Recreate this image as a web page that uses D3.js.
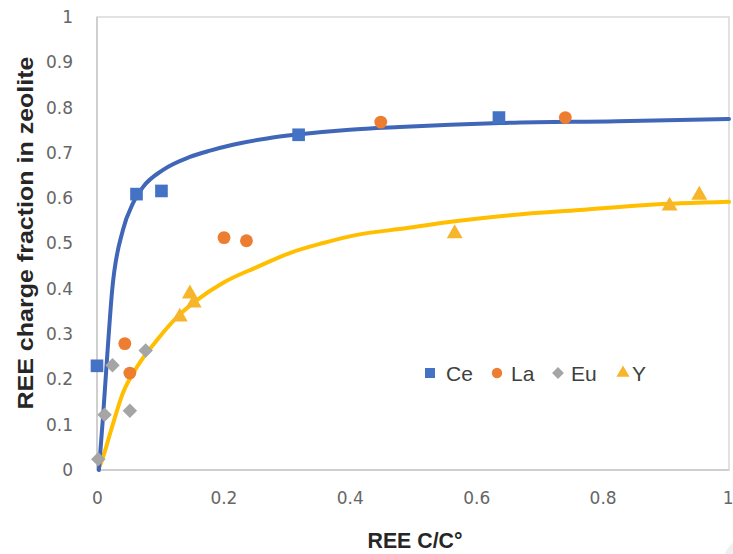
<!DOCTYPE html>
<html><head><meta charset="utf-8">
<script src="https://cdn.jsdelivr.net/npm/d3@7"></script>
<style>body{margin:0;background:#fff;}svg{display:block;}</style>
</head><body>
<script>
// ---- data ----
const ceX = [0, 0.0625, 0.102, 0.319, 0.636];
const ceY = [0.230, 0.609, 0.616, 0.740, 0.778];
const laX = [0.044, 0.052, 0.201, 0.2365, 0.449, 0.741];
const laY = [0.279, 0.214, 0.513, 0.506, 0.768, 0.778];
const euX = [0.002, 0.012, 0.0245, 0.052, 0.077];
const euY = [0.024, 0.122, 0.231, 0.131, 0.264];
const yX = [0.131, 0.147, 0.153, 0.566, 0.906, 0.953];
const yY = [0.338, 0.389, 0.369, 0.522, 0.583, 0.607];
// fitted curves
const ceFitX = [0.003, 0.0095, 0.016, 0.024, 0.041, 0.057, 0.073, 0.104, 0.147, 0.179, 0.215, 0.269, 0.321, 0.400, 0.479, 0.559, 0.638, 0.823, 1.0];
const ceFitY = [0.0, 0.117, 0.249, 0.397, 0.530, 0.589, 0.625, 0.662, 0.691, 0.705, 0.718, 0.732, 0.741, 0.751, 0.757, 0.762, 0.766, 0.770, 0.775];
const yFitX = [0.003, 0.008, 0.021, 0.041, 0.063, 0.095, 0.127, 0.158, 0.199, 0.253, 0.305, 0.358, 0.411, 0.491, 0.554, 0.658, 0.764, 0.870, 1.0];
const yFitY = [0.005, 0.022, 0.082, 0.170, 0.227, 0.287, 0.338, 0.375, 0.413, 0.448, 0.479, 0.501, 0.519, 0.534, 0.547, 0.563, 0.574, 0.585, 0.592];
const xTicks = [0, 0.2, 0.4, 0.6, 0.8, 1];
const xTickLabels = ["0", "0.2", "0.4", "0.6", "0.8", "1"];
const yTicks = [0, 0.1, 0.2, 0.3, 0.4, 0.5, 0.6, 0.7, 0.8, 0.9, 1];
const yTickLabels = ["0", "0.1", "0.2", "0.3", "0.4", "0.5", "0.6", "0.7", "0.8", "0.9", "1"];
const seriesNames = ["Ce", "La", "Eu", "Y"];
const colors = {Ce: "#4472C4", La: "#ED7D31", Eu: "#A5A5A5", Y: "#F7B52C"};
const lineColors = {Ce: "#4066B8", Y: "#FFBF00"};

// ---- layout ----
const W = 733, H = 554;
const L = 97, R = 729, T = 17, B = 470;
const svg = d3.select("body").append("svg").attr("width", W).attr("height", H);
const x = d3.scaleLinear().domain([0, 1]).range([L, R]);
const y = d3.scaleLinear().domain([0, 1]).range([B, T]);

// faint artifact circle bottom-right
svg.append("circle").attr("cx", 752).attr("cy", 566).attr("r", 30).attr("fill", "#f0f0f0");

// plot border
svg.append("rect").attr("x", L).attr("y", T).attr("width", R - L).attr("height", B - T)
  .attr("fill", "none").attr("stroke", "#d9d9d9").attr("stroke-width", 1.5);
svg.append("line").attr("x1", L).attr("x2", L).attr("y1", T).attr("y2", B).attr("stroke", "#c8c8c8").attr("stroke-width", 1.5);
svg.append("line").attr("x1", L).attr("x2", R).attr("y1", B).attr("y2", B).attr("stroke", "#c8c8c8").attr("stroke-width", 1.5);

// axes
const fmtX = d => xTickLabels[xTicks.indexOf(d)];
const fmtY = d => yTickLabels[yTicks.indexOf(d)];
const gx = svg.append("g").attr("transform", `translate(0,${B})`)
  .call(d3.axisBottom(x).tickValues(xTicks).tickFormat(fmtX).tickSize(0).tickPadding(22));
const gy = svg.append("g").attr("transform", `translate(${L},0)`)
  .call(d3.axisLeft(y).tickValues(yTicks).tickFormat(fmtY).tickSize(0).tickPadding(24));
[gx, gy].forEach(g => {
  g.select(".domain").remove();
  g.selectAll("text").attr("fill", "#666666").style("font-family", "'DejaVu Sans', sans-serif")
    .style("font-size", "17px");
});
// last x label sits at the right edge of the window; keep it inside
gx.selectAll(".tick").filter(d => d === 1).select("text").attr("text-anchor", "end").attr("x", 4);

// axis titles
svg.append("text").attr("x", 415).attr("y", 548).attr("text-anchor", "middle")
  .attr("fill", "#262626").style("font-family", "'Liberation Sans', Arial, sans-serif")
  .style("font-weight", "bold").style("font-size", "22px")
  .attr("textLength", 95).attr("lengthAdjust", "spacingAndGlyphs").text("REE C/C°");
svg.append("text").attr("transform", "translate(33,233) rotate(-90)").attr("text-anchor", "middle")
  .attr("fill", "#262626").style("font-family", "'Liberation Sans', Arial, sans-serif")
  .style("font-weight", "bold").style("font-size", "22px")
  .attr("textLength", 353).attr("lengthAdjust", "spacingAndGlyphs").text("REE charge fraction in zeolite");

// fitted lines
const line = d3.line().x(d => x(d[0])).y(d => y(d[1])).curve(d3.curveMonotoneX);
svg.append("path").datum(yFitX.map((v, i) => [v, yFitY[i]])).attr("d", line)
  .attr("fill", "none").attr("stroke", lineColors.Y).attr("stroke-width", 4).attr("stroke-linecap", "round");
svg.append("path").datum(ceFitX.map((v, i) => [v, ceFitY[i]])).attr("d", line)
  .attr("fill", "none").attr("stroke", lineColors.Ce).attr("stroke-width", 4).attr("stroke-linecap", "round");

// markers
const sym = {Ce: d3.symbolSquare, La: d3.symbolCircle, Eu: d3.symbolSquare, Y: d3.symbolTriangle};
const rot = {Ce: 0, La: 0, Eu: 45, Y: 0};
const sizes = {Ce: 160, La: 130, Eu: 105, Y: 110};
const legSizes = {Ce: 100, La: 85, Eu: 70, Y: 75};
const data = {
  Ce: ceX.map((v, i) => [v, ceY[i]]),
  La: laX.map((v, i) => [v, laY[i]]),
  Eu: euX.map((v, i) => [v, euY[i]]),
  Y: yX.map((v, i) => [v, yY[i]])
};
seriesNames.forEach(s => {
  svg.append("g").selectAll("path").data(data[s]).join("path")
    .attr("transform", d => `translate(${x(d[0])},${y(d[1])}) rotate(${rot[s]})`)
    .attr("d", d3.symbol().type(sym[s]).size(sizes[s]))
    .attr("fill", colors[s]);
});

// legend
const legX = [430, 497, 558, 623];
const legTextX = [446, 511, 571, 632];
const legY = 373;
seriesNames.forEach((s, i) => {
  svg.append("path").attr("transform", `translate(${legX[i]},${legY}) rotate(${rot[s]})`)
    .attr("d", d3.symbol().type(sym[s]).size(legSizes[s])).attr("fill", colors[s]);
  svg.append("text").attr("x", legTextX[i]).attr("y", legY + 8)
    .attr("fill", "#404040").style("font-family", "'Liberation Sans', Arial, sans-serif")
    .style("font-size", "21px").text(s);
});
</script>
</body></html>
